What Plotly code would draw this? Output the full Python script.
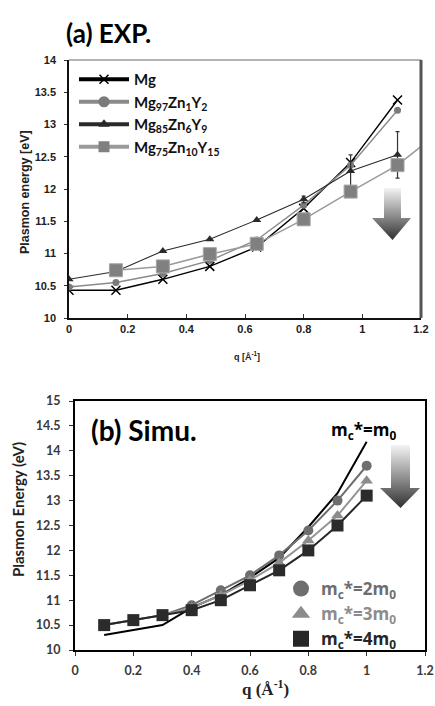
import plotly.graph_objects as go

W, H = 435, 706

# ---------------- (a) experimental dispersion ----------------
q_exp = [0.0, 0.16, 0.32, 0.48, 0.64, 0.80, 0.96, 1.12]
e_mg = [10.43, 10.43, 10.60, 10.80, 11.10, 11.70, 12.41, 13.38]
e_mg97 = [10.48, 10.55, 10.69, 10.89, 11.21, 11.75, 12.37, 13.22]
e_mg85 = [10.60, 10.72, 11.04, 11.22, 11.52, 11.84, 12.28, 12.53]
err_mg85 = [0, 0, 0, 0, 0, 0.05, 0.25, 0.36]
q_mg75 = [0.16, 0.32, 0.48, 0.64, 0.80, 0.96, 1.12, 1.28]
e_mg75 = [10.74, 10.80, 10.99, 11.15, 11.53, 11.96, 12.37, 12.95]

# ---------------- (b) simulated dispersion ----------------
q_sim = [0.1, 0.2, 0.3, 0.4, 0.5, 0.6, 0.7, 0.8, 0.9, 1.0]
e_m1 = [10.30, 10.40, 10.50, 10.85, 11.10, 11.45, 11.85, 12.47, 13.15, 14.18]
e_m2 = [10.50, 10.60, 10.70, 10.90, 11.20, 11.50, 11.90, 12.40, 13.00, 13.70]
e_m3 = [10.50, 10.60, 10.70, 10.85, 11.10, 11.40, 11.75, 12.20, 12.70, 13.40]
e_m4 = [10.50, 10.60, 10.70, 10.80, 11.00, 11.30, 11.60, 12.00, 12.50, 13.10]

exp_names = ["Mg", "Mg<sub>97</sub>Zn<sub>1</sub>Y<sub>2</sub>",
             "Mg<sub>85</sub>Zn<sub>6</sub>Y<sub>9</sub>",
             "Mg<sub>75</sub>Zn<sub>10</sub>Y<sub>15</sub>"]
sim_names = ["m<sub>c</sub>*=2m<sub>0</sub>", "m<sub>c</sub>*=3m<sub>0</sub>",
             "m<sub>c</sub>*=4m<sub>0</sub>"]

# down-arrow outlines in page pixels (x, y)
arrow_a_x = [384, 401, 401, 411, 392.5, 372, 384, 384]
arrow_a_y = [188, 188, 218, 218, 240, 218, 218, 188]
arrow_b_x = [391, 410, 410, 420, 400.5, 380, 391, 391]
arrow_b_y = [445, 445, 488, 488, 508, 488, 488, 445]


def px(x):
    return x / W


def py(y):
    return 1 - y / H


fig = go.Figure()

# top panel series
fig.add_trace(go.Scatter(x=q_exp, y=e_mg, mode="lines+markers", xaxis="x", yaxis="y",
                         line=dict(color="#000000", width=1.4),
                         marker=dict(symbol="x-thin", size=9, line=dict(color="#000000", width=1.5)),
                         showlegend=False))
fig.add_trace(go.Scatter(x=q_exp, y=e_mg97, mode="lines+markers", xaxis="x", yaxis="y",
                         line=dict(color="#8a8a8a", width=1.4),
                         marker=dict(symbol="circle", size=7, color="#7a7a7a"),
                         showlegend=False))
fig.add_trace(go.Scatter(x=q_exp, y=e_mg85, mode="lines+markers", xaxis="x", yaxis="y",
                         line=dict(color="#2a2a2a", width=1.1),
                         marker=dict(symbol="triangle-up", size=8, color="#2a2a2a"),
                         error_y=dict(type="data", array=err_mg85, color="#333333",
                                      thickness=1.2, width=2),
                         showlegend=False))
fig.add_trace(go.Scatter(x=q_mg75, y=e_mg75, mode="lines+markers", xaxis="x", yaxis="y",
                         line=dict(color="#9a9a9a", width=1.5),
                         marker=dict(symbol="square", size=13, color="#808080",
                                     line=dict(color="#a5a5a5", width=1)),
                         showlegend=False))

# top legend entries
leg_styles = [
    dict(line=dict(color="#000000", width=4),
         marker=dict(symbol="x-thin", size=9, line=dict(color="#000000", width=1.5))),
    dict(line=dict(color="#8a8a8a", width=4), marker=dict(symbol="circle", size=11, color="#7a7a7a")),
    dict(line=dict(color="#2a2a2a", width=4), marker=dict(symbol="triangle-up", size=10, color="#2a2a2a")),
    dict(line=dict(color="#9a9a9a", width=4), marker=dict(symbol="square", size=11, color="#808080")),
]
for name, st in zip(exp_names, leg_styles):
    fig.add_trace(go.Scatter(x=[None], y=[None], mode="lines+markers", name=name,
                             xaxis="x", yaxis="y", legend="legend", **st))

# bottom panel series
fig.add_trace(go.Scatter(x=q_sim, y=e_m1, mode="lines", xaxis="x2", yaxis="y2",
                         line=dict(color="#000000", width=2), showlegend=False))
fig.add_trace(go.Scatter(x=q_sim, y=e_m2, mode="lines+markers", xaxis="x2", yaxis="y2",
                         line=dict(color="#6e6e6e", width=2),
                         marker=dict(symbol="circle", size=10, color="#6e6e6e"),
                         showlegend=False))
fig.add_trace(go.Scatter(x=q_sim, y=e_m3, mode="lines+markers", xaxis="x2", yaxis="y2",
                         line=dict(color="#959595", width=2),
                         marker=dict(symbol="triangle-up", size=11, color="#8c8c8c"),
                         showlegend=False))
fig.add_trace(go.Scatter(x=q_sim, y=e_m4, mode="lines+markers", xaxis="x2", yaxis="y2",
                         line=dict(color="#262626", width=2),
                         marker=dict(symbol="square", size=12, color="#2b2b2b"),
                         showlegend=False))

sim_colors = ["#6e6e6e", "#8c8c8c", "#262626"]
sim_symbols = ["circle", "triangle-up", "square"]
for name, c, s in zip(sim_names, sim_colors, sim_symbols):
    fig.add_trace(go.Scatter(x=[None], y=[None], mode="markers", xaxis="x2", yaxis="y2",
                             name=f'<span style="color:{c}">{name}</span>',
                             marker=dict(symbol=s, size=17, color=c), legend="legend2"))

# gradient arrows on a page-pixel overlay
for ax_, ay_ in [(arrow_a_x, arrow_a_y), (arrow_b_x, arrow_b_y)]:
    fig.add_trace(go.Scatter(x=ax_, y=ay_, mode="lines", xaxis="x3", yaxis="y3",
                             fill="toself", line=dict(width=0, color="rgba(0,0,0,0)"),
                             fillgradient=dict(type="vertical", start=min(ay_), stop=max(ay_),
                                               colorscale=[[0, "#f4f4f4"], [0.55, "#8a8a8a"],
                                                           [1, "#303030"]]),
                             showlegend=False, hoverinfo="skip"))

tick_a = dict(family="Liberation Sans, Arial", size=11, color="#222222", weight="bold")
tick_b = dict(family="Lato, Open Sans", size=12.5, color="#3a3a3a", weight="bold")

fig.update_layout(
    template="none",
    width=W, height=H, margin=dict(l=0, r=0, t=0, b=0, autoexpand=False),
    paper_bgcolor="white", plot_bgcolor="rgba(0,0,0,0)",
    xaxis=dict(domain=[px(69), px(421)], range=[0, 1.2], dtick=0.2, tickformat="~g",
               showline=True, linecolor="#111111", linewidth=2, ticks="inside",
               ticklen=4, tickcolor="#333333", showgrid=False, zeroline=False,
               tickfont=tick_a, anchor="y", automargin=False),
    yaxis=dict(domain=[py(318), py(60)], range=[10, 14], dtick=0.5, tickformat="~g",
               showline=True, linecolor="#111111", linewidth=1.5, ticks="outside",
               ticklen=3, tickcolor="#333333", showgrid=False, zeroline=False,
               tickfont=tick_a, ticklabelstandoff=6, anchor="x", automargin=False),
    xaxis2=dict(domain=[px(75), px(425)], range=[0, 1.2], dtick=0.2, tickformat="~g",
                showline=True, mirror=True, linecolor="#000000", linewidth=2, ticks="outside",
                ticklen=4, tickcolor="#333333", showgrid=False, zeroline=False,
                tickfont=tick_b, anchor="y2", ticklabelstandoff=4, automargin=False),
    yaxis2=dict(domain=[py(650), py(401)], range=[10, 15], dtick=0.5, tickformat="~g",
                showline=True, mirror=True, linecolor="#000000", linewidth=2, ticks="outside",
                ticklen=4, tickcolor="#333333", showgrid=False, zeroline=False,
                tickfont=tick_b, anchor="x2", ticklabelstandoff=6, automargin=False),
    xaxis3=dict(domain=[0, 1], range=[0, W], visible=False, anchor="y3", automargin=False),
    yaxis3=dict(domain=[0, 1], range=[H, 0], visible=False, anchor="x3", automargin=False),
    legend=dict(x=px(74), y=py(63), xanchor="left", yanchor="top", bgcolor="rgba(0,0,0,0)",
                font=dict(family="Lato, Open Sans", size=15, color="#111111", weight="bold"),
                itemwidth=50, tracegroupgap=0),
    legend2=dict(x=px(281), y=py(571), xanchor="left", yanchor="top", bgcolor="rgba(0,0,0,0)",
                 font=dict(family="Open Sans, Lato", size=17, color="#111111", weight="bold"),
                 itemwidth=30),
    showlegend=True,
)

# frame on panel (a): thin top edge and heavy right edge
fig.add_shape(type="line", xref="x domain", yref="y domain", x0=0, x1=1, y0=1, y1=1,
              line=dict(color="#6a6a6a", width=1.2))
fig.add_shape(type="line", xref="x domain", yref="y domain", x0=1, x1=1, y0=0, y1=1,
              line=dict(color="#555555", width=3))

ann = [
    dict(x=px(64), y=py(33), text="<b>(a) EXP.</b>", xanchor="left",
         font=dict(family="Lato, Open Sans", size=26, color="#000000")),
    dict(x=px(89), y=py(430), text="<b>(b) Simu.</b>", xanchor="left",
         font=dict(family="Lato, Open Sans", size=28, color="#000000")),
    dict(x=px(364), y=py(431), text="<b>m<sub>c</sub>*=m<sub>0</sub></b>", xanchor="center",
         font=dict(family="Open Sans, Lato", size=17, color="#000000")),
    dict(x=px(25), y=py(192), text="<b>Plasmon energy [eV]</b>", textangle=-90, xanchor="center",
         font=dict(family="Liberation Sans, Arial", size=12.5, color="#222222")),
    dict(x=px(247), y=py(356), text="<b>q [Å<sup>-1</sup>]</b>", xanchor="center",
         font=dict(family="Liberation Sans, Arial", size=9, color="#222222")),
    dict(x=px(18), y=py(510), text="<b>Plasmon Energy (eV)</b>", textangle=-90, xanchor="center",
         font=dict(family="Lato, Open Sans", size=15, color="#222222")),
    dict(x=px(265), y=py(688), text="<b>q (Å<sup>-1</sup>)</b>", xanchor="center",
         font=dict(family="Liberation Serif, Times New Roman", size=17, color="#222222")),
]
for a in ann:
    fig.add_annotation(xref="paper", yref="paper", showarrow=False, yanchor="middle", **a)

fig.write_html("out.html")
